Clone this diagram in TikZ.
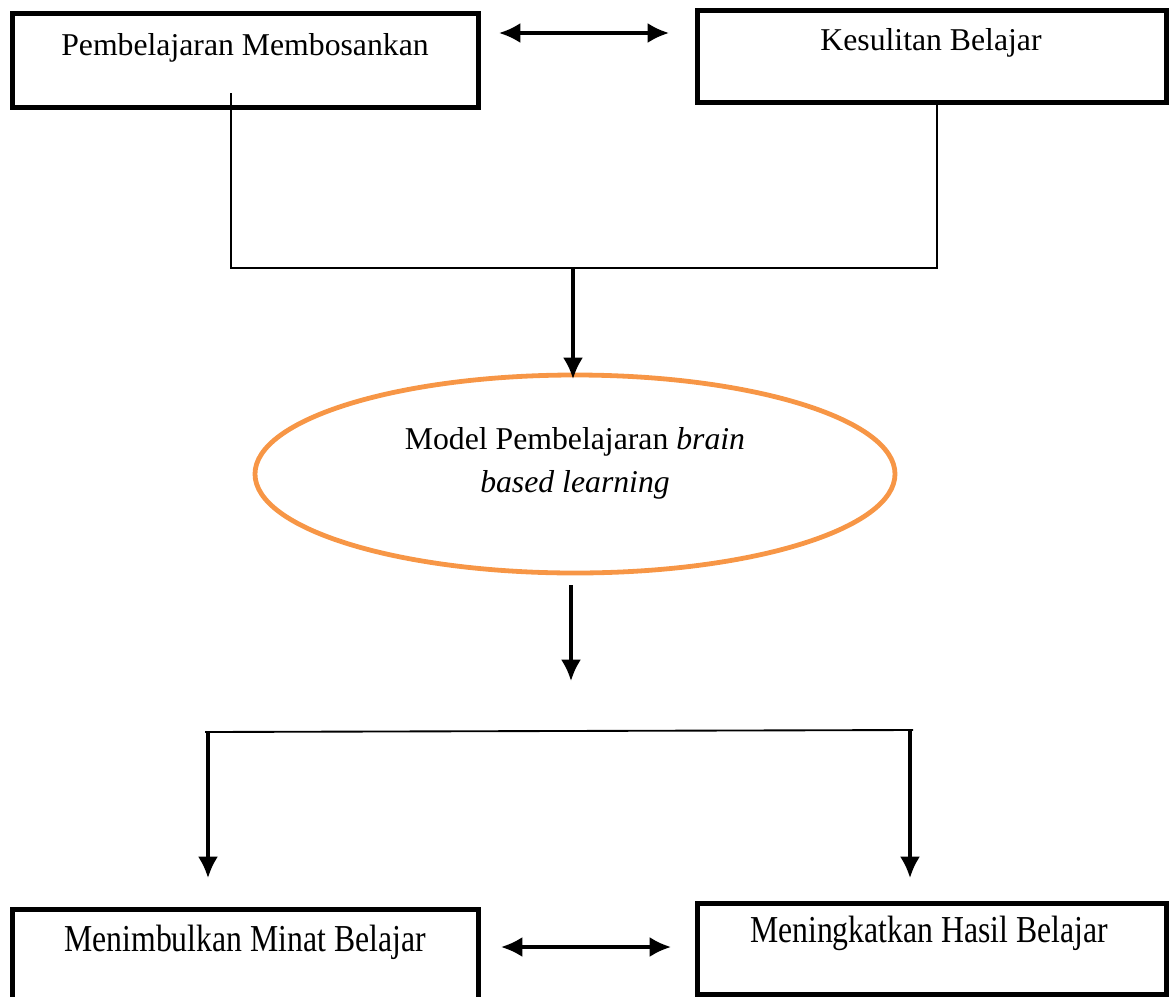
\documentclass[tikz,border=0pt]{standalone}
\usepackage{fontspec}
\setmainfont{Liberation Serif}
\usetikzlibrary{arrows.meta,shapes.geometric}
\begin{document}
\begin{tikzpicture}[x=0.75pt,y=-0.75pt,
  box/.style={draw,line width=3.75pt,rectangle,inner sep=0pt},
  lbl/.style={anchor=base,inner sep=0pt,font=\fontsize{23.8pt}{32pt}\selectfont},
  conn/.style={line width=1.4pt},
  tip/.tip={Latex[length=16pt,width=15pt]},
  arr/.style={line width=2.4pt,-tip},
  darr/.style={line width=2.4pt,tip-tip}]
\useasboundingbox (0,0) rectangle (1170,996);
% boxes
\node[box,minimum width=350pt,minimum height=70.5pt] (b1) at (245.5,60) {};
\node[box,minimum width=351.75pt,minimum height=69pt] (b2) at (931.5,56) {};
\node[box,minimum width=350pt,minimum height=71pt] (b3) at (245.5,957) {};
\node[box,minimum width=351.75pt,minimum height=68.25pt] (b4) at (931.5,948.5) {};
% texts
\node[lbl] (t1) at (245,55) {Pembelajaran Membosankan};
\node[lbl] (t2) at (931,50) {Kesulitan Belajar};
\node[lbl,yscale=1.2] (t3) at (245,951) {Menimbulkan Minat Belajar};
\node[lbl,yscale=1.2] (t4) at (929,942) {Meningkatkan Hasil Belajar};
% ellipse
\node[ellipse,draw={rgb,255:red,247;green,150;blue,70},line width=3.6pt,minimum width=480pt,minimum height=148.5pt,inner sep=0pt] (el) at (575,474) {};
\node[lbl] (e1) at (575,449) {Model Pembelajaran \textit{brain}};
\node[lbl] (e2) at (575,492) {\textit{based learning}};
% coordinates
\coordinate (c1) at (231,93);
\coordinate (c1b) at (231,268);
\coordinate (c2) at (937,102);
\coordinate (c2b) at (937,268);
\coordinate (cm) at (573,268);
\coordinate (ct) at (573,379);
\coordinate (d1) at (571,585);
\coordinate (d2) at (571,681);
\coordinate (h1) at (205,732);
\coordinate (h2) at (913,730);
\coordinate (v1) at (208,732);
\coordinate (v1b) at (208,878);
\coordinate (v2) at (910,730);
\coordinate (v2b) at (910,878);
\coordinate (a1) at (499,33);
\coordinate (a2) at (669,33);
\coordinate (a3) at (501,947);
\coordinate (a4) at (671,947);
% connectors
\draw[darr] (a1) -- (a2);
\draw[conn] (c1) -- (c1b) -- (c2b) -- (c2);
\draw[arr] (cm) -- (ct);
\draw[arr] (d1) -- (d2);
\draw[conn] (h1) -- (h2);
\draw[arr] (v1) -- (v1b);
\draw[arr] (v2) -- (v2b);
\draw[darr] (a3) -- (a4);
\end{tikzpicture}
\end{document}
